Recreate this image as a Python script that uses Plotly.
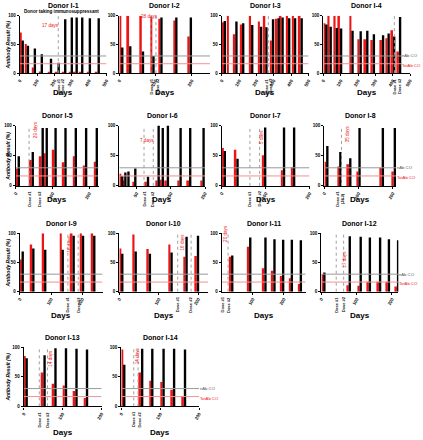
import plotly.graph_objects as go

W, H = 423, 440
RED = "#ee1414"
BLACK = "#000000"
GREY_CO = "#9a9a9a"
RED_CO = "#f59090"
FONT = "Liberation Sans, Arial, sans-serif"

# ---------------- data ----------------
I1_DAYS = [0, 30, 70, 110, 163, 207, 245, 283, 311, 343, 387, 438]
I1_TOTAB = [71, 51, 10, 3, 1, 1, 1, 1, 1, 1, 1, 1]
I1_NAB = [57, 48, 43, 33, 25, 18, 94, 97, 97, 97, 96, 96]

I2_DAYS = [0, 22, 57, 86, 108, 149, 189]
I2_TOTAB = [100, 100, 100, 98, 95, 92, 64]
I2_NAB = [45, 47, 38, 30, 97, 97, 97]

I3_DAYS = [0, 29, 67, 106, 158, 209, 240, 278, 310, 333, 371, 405, 443]
I3_TOTAB = [89, 100, 68, 85, 100, 90, 100, 57, 95, 100, 100, 100, 100]
I3_NAB = [91, None, 90, 87, 84, 81, 80, 94, 96, 97, 96, 96, 96]

I4_DAYS = [0, 25, 60, 85, 151, 198, 236, 274, 327, 359, 391, 425]
I4_TOTAB = [87, 100, 100, 100, 100, 59, 59, 58, 58, 61, 75, 38]
I4_NAB = [85, 81, 79, 78, 74, 73, 74, 68, 66, 69, 64, 98]

I5_DAYS = [0, 38, 65, 76, 100, 127, 155, 183, 212]
I5_TOTAB = [29, 43, 49, 54, 60, 39, 49, 34, 40]
I5_NAB = [49, 56, 96, 96, 96, 96, 96, 96, 96]

I6_DAYS = [0, 9, 18, 38, 75, 106, 118, 133, 170, 198, 237]
I6_TOTAB = [20, 9, None, 7, 7, 9, 10, 9, 9, 9, 9]
I6_NAB = [16, 22, 24, 29, 15, 100, 96, 100, 96, 96, 96]

I7_DAYS = [0, 29, 92, 135, 158]
I7_TOTAB = [63, 60, 51, 26, 31]
I7_NAB = [58, 45, 97, 97, 97]

I8_DAYS = [0, 38, 67, 94, 162, 197]
I8_TOTAB = [40, 32, 36, 24, 30, 24]
I8_NAB = [66, 56, 46, 96, 96, 96]

I9_DAYS = [0, 34, 72, 128, 163, 193, 229]
I9_TOTAB = [55, 81, 100, 100, 100, 100, 100]
I9_NAB = [69, 74, 72, 72, 96, 96, 96]

I10_DAYS = [0, 34, 70, 125, 163, 192]
I10_TOTAB = [74, 98, 73, 81, 60, 61]
I10_NAB = [65, 69, 65, 67, 94, 96]

I11_DAYS = [24, 82, 131, 160, 188, 216, 245]
I11_TOTAB = [60, 77, 40, 36, 27, 23, 13]
I11_NAB = [62, 93, 93, 90, 89, 89, 88]

I12_DAYS = [0, 72, 103, 129, 158, 183, 209]
I12_TOTAB = [30, 11, 10, 17, 17, 17, 9]
I12_NAB = [33, 95, 94, 93, 93, 90, 88]

I13_DAYS = [0, 46, 74, 101, 128, 155]
I13_TOTAB = [85, 57, 38, 35, 26, 14]
I13_NAB = [81, 86, 98, 98, 97, 96]

I14_DAYS = [0, 46, 72, 101, 128, 156]
I14_TOTAB = [96, 57, 43, 41, 28, 17]
I14_NAB = [70, 97, 97, 97, 97, 96]

TITLES = ["Donor I-1", "Donor I-2", "Donor I-3", "Donor I-4", "Donor I-5", "Donor I-6", "Donor I-7",
          "Donor I-8", "Donor I-9", "Donor I-10", "Donor I-11", "Donor I-12", "Donor I-13", "Donor I-14"]
SUBTITLE_I1 = "Donor taking immunosuppressant"

X_MAX = [500, 250, 500, 500, 225, 250, 200, 210, 265, 225, 270, 218, 200, 200]
X_TICKS = [[0, 100, 200, 300, 400, 500], [0, 100, 200], [0, 100, 200, 300, 400, 500],
           [0, 100, 200, 300, 400, 500], [0, 100, 200], [50, 150, 250], [0, 100, 200],
           [0, 100, 200], [0, 100, 200], [0, 100, 200], [100, 200], [0, 100, 200],
           [0, 100, 200], [0, 100, 200]]
DOSE_LABEL_DAYS = [[222, 245], [88, 104], [257, 281], [409, 435], [38, 66], [74, 99], [64, 86],
                   [45], [154, 187], [148, 182], [3, 21], [42, 63], [40, 61], [32, 46]]
DOSE_LABELS = [["Dose #1", "Dose #2"]] * 7 + [["Dose #1<br>(J&J)"]] + [["Dose #1", "Dose #2"]] * 6
DOSE_LINE_DAYS = [[222], [87, 101], [268], [409], [36], [72, 99], [64, 86], [50], [154, 187],
                  [148, 182], [20], [42, 63], [40, 61], [32, 43]]
# (text, day, percent, angle)
DAY_NOTES = [("17 days", 180, 84, 0), ("28 days", 84, 98, 0), ("34 days", 280, 106, 0),
             ("23 days", 425, 103, 0), ("29 days", 53, 93, -90), ("7 days", 80, 76, 0),
             ("5 days", 89, 81, -90), ("35 days", 67, 86, -90), ("16 days", 158, 81, -90),
             ("16 days", 160, 85, -90), ("20 days", 12, 100, -90), ("17 days", 67, 55, -90),
             ("14 days", 70, 82, -90), ("14 days", 40, 86, -90)]
EXTRA_NOTE_I2 = ("5 days", 130, 103)
NAB_CO = 30
TOTAB_CO = 16.5

# ---------------- layout (pixel boxes) ----------------
DAYS_LIST = [I1_DAYS, I2_DAYS, I3_DAYS, I4_DAYS, I5_DAYS, I6_DAYS, I7_DAYS, I8_DAYS, I9_DAYS,
             I10_DAYS, I11_DAYS, I12_DAYS, I13_DAYS, I14_DAYS]
TOT_LIST = [I1_TOTAB, I2_TOTAB, I3_TOTAB, I4_TOTAB, I5_TOTAB, I6_TOTAB, I7_TOTAB, I8_TOTAB,
            I9_TOTAB, I10_TOTAB, I11_TOTAB, I12_TOTAB, I13_TOTAB, I14_TOTAB]
NAB_LIST = [I1_NAB, I2_NAB, I3_NAB, I4_NAB, I5_NAB, I6_NAB, I7_NAB, I8_NAB, I9_NAB, I10_NAB,
            I11_NAB, I12_NAB, I13_NAB, I14_NAB]

BOX = [(17, 105, 0), (118, 210, 0), (222, 310, 0), (325, 413, 0),
       (13, 97, 1), (118, 205, 1), (222, 311, 1), (326, 399, 1),
       (17, 101, 2), (118, 208, 2), (222, 307, 2), (323, 401, 2),
       (21, 100, 3), (120, 199, 3)]
ROWS = [(14, 72, 4, 92), (125, 186, 115, 200), (234, 293, 224, 317), (349, 409, 339, 435)]
CO_LABEL_PANELS = {3: 450, 7: None, 11: None, 13: None}
RED_W_PX, BLK_W_PX = 1.8, 2.4


def px(x):
    return x / W


def py(y):
    return 1 - y / H


fig = go.Figure()
shapes, annos = [], []
lay = {}

for k in range(14):
    i = k + 1
    x0, x1, r = BOX[k]
    yt, yb, ty, dy = ROWS[r]
    xs = "x" if i == 1 else f"x{i}"
    ys = "y" if i == 1 else f"y{i}"
    xmax = X_MAX[k]
    dpp = xmax / (x1 - x0)
    wr, wb = RED_W_PX * dpp, BLK_W_PX * dpp
    days = DAYS_LIST[k]
    fig.add_trace(go.Bar(x=days, y=TOT_LIST[k], width=wr, offset=0, marker_color=RED,
                         marker_line_width=0, xaxis=xs, yaxis=ys, showlegend=False))
    fig.add_trace(go.Bar(x=days, y=NAB_LIST[k], width=wb, offset=wr, marker_color=BLACK,
                         marker_line_width=0, xaxis=xs, yaxis=ys, showlegend=False))
    lay["xaxis" if i == 1 else f"xaxis{i}"] = dict(
        domain=[px(x0), px(x1)], range=[0, xmax], anchor=ys, showgrid=False, zeroline=False,
        showline=True, linecolor="black", linewidth=1.3, ticks="outside", ticklen=2,
        tickwidth=1, tickcolor="black", tickvals=X_TICKS[k],
        ticktext=[f"<b>{t}</b>" for t in X_TICKS[k]],
        tickangle=-60, tickfont=dict(size=4.5, family=FONT, color="black"), fixedrange=True)
    lay["yaxis" if i == 1 else f"yaxis{i}"] = dict(
        domain=[py(yb), py(yt)], range=[0, 100], anchor=xs, showgrid=False, zeroline=False,
        showline=True, linecolor="black", linewidth=1.3, ticks="outside", ticklen=2,
        tickwidth=1, tickcolor="black", tickvals=[0, 50, 100],
        ticktext=["<b>0</b>", "<b>50</b>", "<b>100</b>"],
        tickfont=dict(size=4.5, family=FONT, color="black"), fixedrange=True)

    co_end = xmax
    if k in CO_LABEL_PANELS and CO_LABEL_PANELS[k]:
        co_end = CO_LABEL_PANELS[k]
    shapes.append(dict(type="line", xref=xs, yref=ys, x0=0, x1=co_end, y0=NAB_CO, y1=NAB_CO,
                       line=dict(color=GREY_CO, width=1)))
    shapes.append(dict(type="line", xref=xs, yref=ys, x0=0, x1=co_end, y0=TOTAB_CO, y1=TOTAB_CO,
                       line=dict(color=RED_CO, width=1)))
    for d in DOSE_LINE_DAYS[k]:
        shapes.append(dict(type="line", xref=xs, yref=ys, x0=d, x1=d, y0=0, y1=100,
                           line=dict(color="#a0a0a0", width=1, dash="dot")))
    for d, lab in zip(DOSE_LABEL_DAYS[k], DOSE_LABELS[k]):
        annos.append(dict(x=d, xref=xs, y=py(yb + 3), yref="paper", text=f"<b>{lab}</b>",
                          showarrow=False, textangle=-90, xanchor="center", yanchor="top",
                          font=dict(size=4, family=FONT, color="black")))
    t, dd, pc, ang = DAY_NOTES[k]
    annos.append(dict(x=dd, xref=xs, y=pc, yref=ys, text=t, showarrow=False, textangle=ang,
                      xanchor="center", yanchor="middle",
                      font=dict(size=4.6, family=FONT, color=RED)))
    if k == 1:
        t2, d2, p2 = EXTRA_NOTE_I2
        annos.append(dict(x=d2, xref=xs, y=p2, yref=ys, text=t2, showarrow=False,
                          xanchor="center", yanchor="middle",
                          font=dict(size=4.6, family=FONT, color=RED)))
    # titles
    annos.append(dict(x=px((x0 + x1) / 2), xref="paper", y=py(ty), yref="paper",
                      text=f"<b>{TITLES[k]}</b>", showarrow=False, xanchor="center",
                      yanchor="middle", font=dict(size=7, family=FONT, color="black")))
    annos.append(dict(x=px((x0 + x1) / 2), xref="paper", y=py(dy), yref="paper",
                      text="<b>Days</b>", showarrow=False, xanchor="center", yanchor="middle",
                      font=dict(size=8, family=FONT, color="black")))
    if x0 < 30:
        annos.append(dict(x=px(5), xref="paper", y=py((yt + yb) / 2), yref="paper",
                          text="<b><i>Antibody Result (%)</i></b>", showarrow=False,
                          textangle=-90, xanchor="center", yanchor="middle",
                          font=dict(size=5, family=FONT, color="black")))
    if k in CO_LABEL_PANELS:
        xe = co_end
        annos.append(dict(x=xe, xref=xs, y=NAB_CO, yref=ys, text="nAb CO", showarrow=False,
                          xanchor="left", yanchor="middle", xshift=-1,
                          font=dict(size=4.2, family=FONT, color="#555555")))
        annos.append(dict(x=xe, xref=xs, y=TOTAB_CO - 3, yref=ys, text="TotAb CO",
                          showarrow=False, xanchor="left", yanchor="middle", xshift=-1,
                          font=dict(size=4.2, family=FONT, color=RED)))

annos.append(dict(x=px(59), xref="paper", y=py(10), yref="paper", text=f"<b>{SUBTITLE_I1}</b>",
                  showarrow=False, xanchor="center", yanchor="middle",
                  font=dict(size=4.6, family=FONT, color="black")))

fig.update_layout(width=W, height=H, margin=dict(l=0, r=0, t=0, b=0), paper_bgcolor="white",
                  plot_bgcolor="white", barmode="overlay", shapes=shapes, annotations=annos,
                  font=dict(family=FONT), **lay)

fig.write_html("out.html", config={"displayModeBar": False},
               post_script="document.body.style.margin='0';")
